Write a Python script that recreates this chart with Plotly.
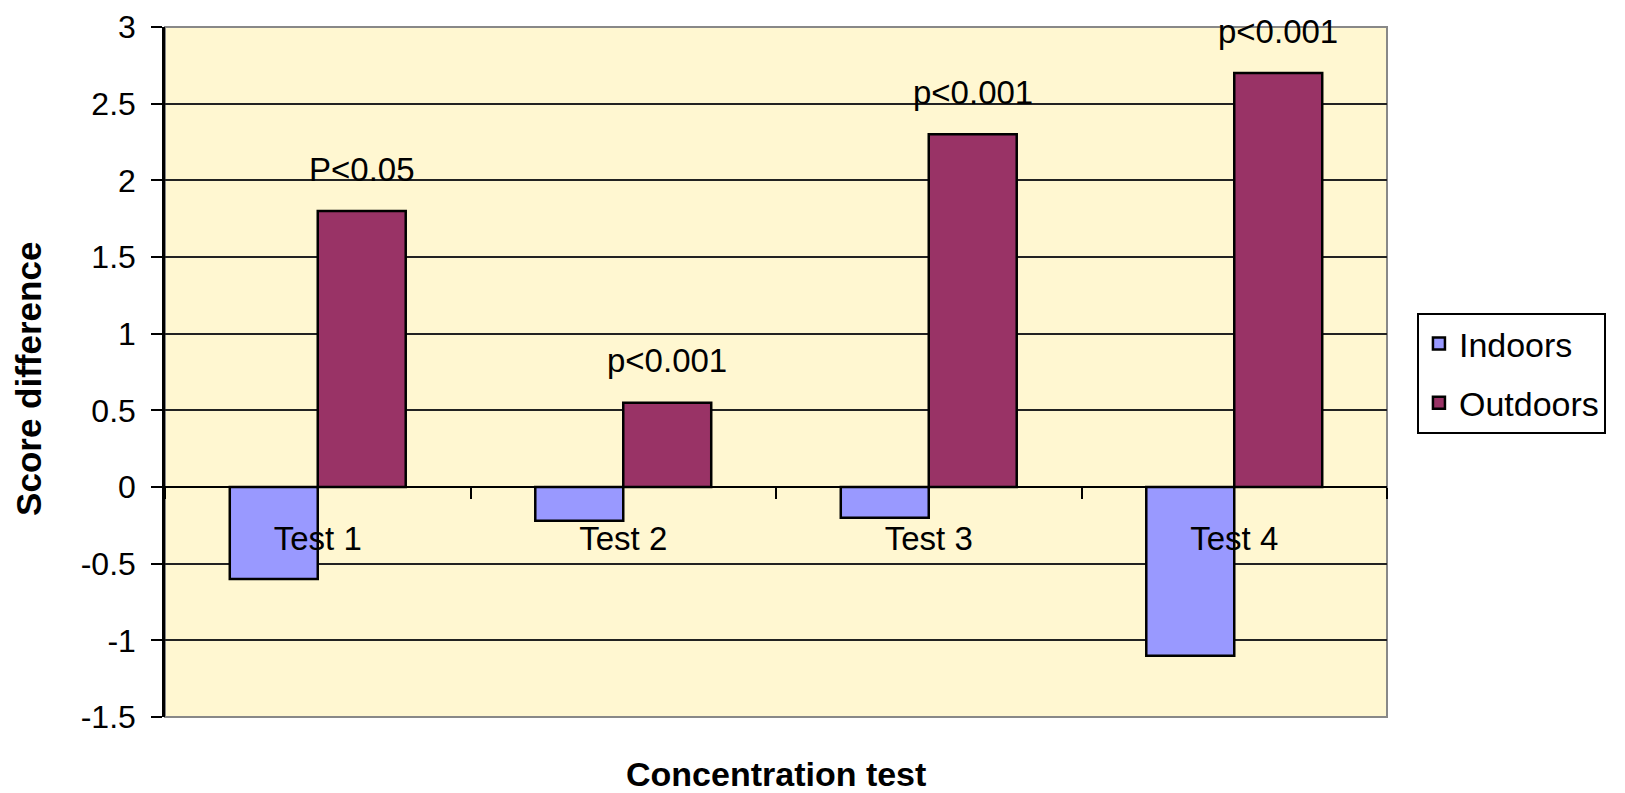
import plotly.graph_objects as go

categories = ["Test 1", "Test 2", "Test 3", "Test 4"]
indoors = [-0.6, -0.22, -0.2, -1.1]
outdoors = [1.8, 0.55, 2.3, 2.7]
p_labels = ["P<0.05", "p<0.001", "p<0.001", "p<0.001"]
y_ticks = [-1.5, -1, -0.5, 0, 0.5, 1, 1.5, 2, 2.5, 3]
y_ticktext = ["-1.5", "-1", "-0.5", "0", "0.5", "1", "1.5", "2", "2.5", "3"]

FONT = "Liberation Sans, Arial, sans-serif"

fig = go.Figure()
fig.add_trace(go.Bar(
    x=categories, y=indoors, name="Indoors",
    marker=dict(color="#9999FF", line=dict(color="black", width=2.5)),
    legendgroup="a",
))
fig.add_trace(go.Bar(
    x=categories, y=outdoors, name="Outdoors",
    marker=dict(color="#993366", line=dict(color="black", width=2.5)),
    legendgroup="b",
))

for cat, val, lab in zip(categories, outdoors, p_labels):
    fig.add_annotation(x=cat, y=val, text=lab, showarrow=False,
                       xshift=44, yshift=42,
                       font=dict(family=FONT, size=33, color="black"))

fig.add_annotation(xref="paper", yref="paper", x=0.5, y=-0.083,
                   xanchor="center", yanchor="middle",
                   text="<b>Concentration test</b>", showarrow=False,
                   font=dict(family=FONT, size=34, color="black"))
fig.add_annotation(xref="paper", yref="paper", x=-0.1113, y=0.49,
                   xanchor="center", yanchor="middle",
                   text="<b>Score difference</b>", showarrow=False, textangle=-90,
                   font=dict(family=FONT, size=35, color="black"))

# plot area border
fig.add_shape(type="rect", xref="x domain", yref="y domain", x0=0, x1=1, y0=0, y1=1,
              line=dict(color="#888888", width=2), fillcolor="rgba(0,0,0,0)", layer="below")

fig.update_layout(
    width=1625, height=793,
    margin=dict(l=165, r=238, t=27, b=76, autoexpand=False),
    paper_bgcolor="white",
    plot_bgcolor="#FFF7D1",
    barmode="group",
    bargap=0.424,
    bargroupgap=0,
    showlegend=True,
    legend=dict(
        x=1.0245, y=0.5855, xanchor="left", yanchor="top",
        bgcolor="white", bordercolor="black", borderwidth=2,
        font=dict(family=FONT, size=34, color="black"),
        traceorder="grouped", tracegroupgap=12,
        itemwidth=30,
    ),
    font=dict(family=FONT, color="black"),
    xaxis=dict(
        type="category",
        anchor="free", position=1/3,
        showline=True, linecolor="black", linewidth=2,
        ticks="outside", tickson="boundaries", ticklen=11, tickwidth=2, tickcolor="black",
        tickfont=dict(family=FONT, size=33, color="black"),
        ticklabelstandoff=22,
        showgrid=False, zeroline=False,
    ),
    yaxis=dict(
        range=[-1.5, 3],
        tickvals=y_ticks, ticktext=y_ticktext,
        showline=True, linecolor="black", linewidth=2.5,
        ticks="outside", ticklen=11, tickwidth=2, tickcolor="black",
        tickfont=dict(family=FONT, size=32, color="black"),
        ticklabelstandoff=9,
        showgrid=True, gridcolor="#222222", gridwidth=2,
        zeroline=True, zerolinecolor="black", zerolinewidth=2,
    ),
)

fig.write_html("out.html")
